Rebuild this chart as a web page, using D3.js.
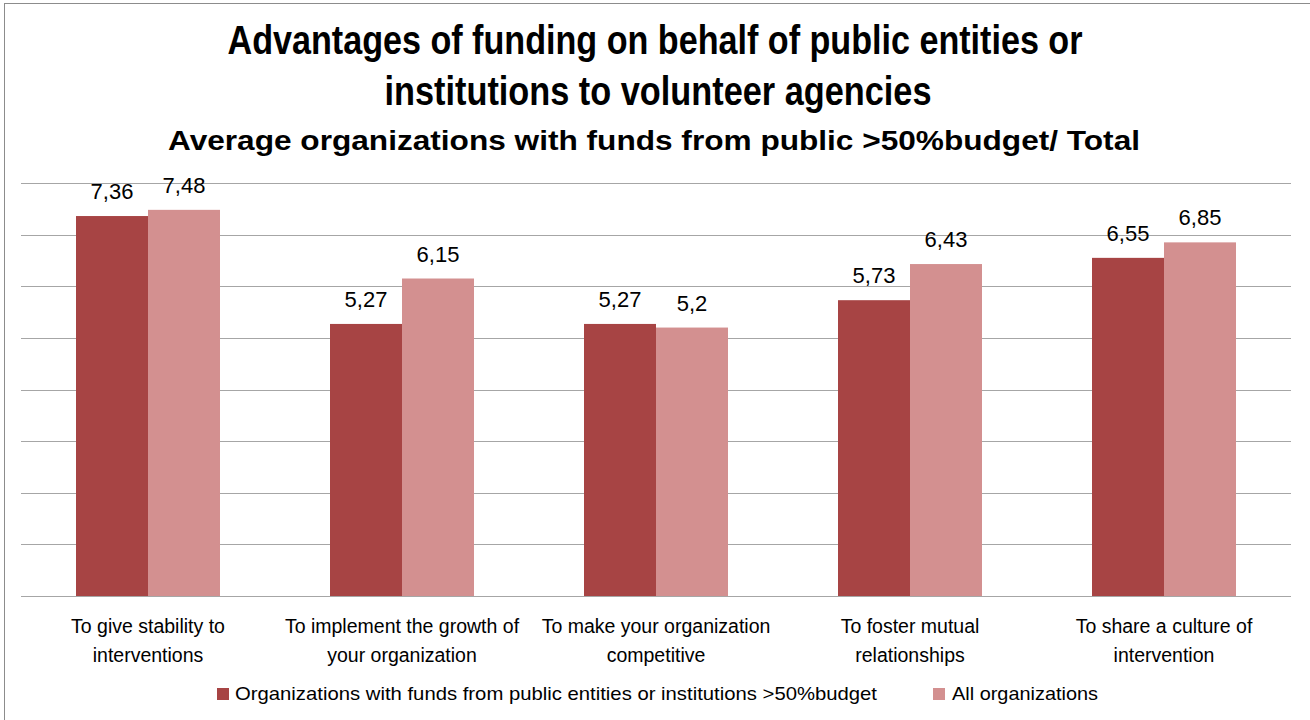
<!DOCTYPE html>
<html><head><meta charset="utf-8">
<script src="https://cdn.jsdelivr.net/npm/d3@7"></script>
<style>body{margin:0;background:#fff}svg{display:block;font-family:"Liberation Sans",Arial,sans-serif}</style>
</head><body><svg id="c" width="1310" height="720"></svg>
<script>
const categories = [
  ["To give stability to","interventions"],
  ["To implement the growth of","your organization"],
  ["To make your organization","competitive"],
  ["To foster mutual","relationships"],
  ["To share a culture of","intervention"]
];
const seriesNames = ["Organizations with funds from public entities or institutions >50%budget","All organizations"];
const seriesPublic = [7.36, 5.27, 5.27, 5.73, 6.55];
const seriesAll = [7.48, 6.15, 5.2, 6.43, 6.85];
const valueLabelsPublic = ["7,36","5,27","5,27","5,73","6,55"];
const valueLabelsAll = ["7,48","6,15","5,2","6,43","6,85"];
const yTicks = [0,1,2,3,4,5,6,7,8];
const colors = ["#A74444","#D39090"];

(function(){
const svg = d3.select("#c");
svg.append("rect").attr("x",4.5).attr("y",3.5).attr("width",1310).attr("height",720).attr("fill","none").attr("stroke","#8c8c8c").attr("stroke-width",1);

const pLeft=21, pRight=1291, pTop=183, pBottom=596;
const x = d3.scaleBand().domain(d3.range(categories.length)).range([pLeft,pRight]).paddingInner(0).paddingOuter(0);
const y = d3.scaleLinear().domain([0,8]).range([pBottom,pTop]);
const inner = d3.scaleBand().domain([0,1]).range([0,x.bandwidth()]).paddingInner(0).paddingOuter(0.764);

svg.append("g").selectAll("line").data(yTicks).join("line")
  .attr("x1",pLeft).attr("x2",pRight).attr("y1",d=>Math.round(y(d))+0.5).attr("y2",d=>Math.round(y(d))+0.5)
  .attr("stroke","#a6a6a6").attr("stroke-width",1.2);

const series = [seriesPublic, seriesAll];
const labels = [valueLabelsPublic, valueLabelsAll];
series.forEach((s,si)=>{
  const g = svg.append("g");
  g.selectAll("rect").data(s).join("rect")
    .attr("x",(d,i)=>x(i)+inner(si)).attr("width",inner.bandwidth())
    .attr("y",d=>y(d)).attr("height",d=>pBottom-y(d)).attr("fill",colors[si]);
  g.selectAll("text").data(s).join("text")
    .attr("x",(d,i)=>x(i)+inner(si)+inner.bandwidth()/2).attr("y",d=>y(d)-17)
    .attr("text-anchor","middle").attr("font-size",22).attr("fill","#000")
    .text((d,i)=>labels[si][i]);
});

const cg = svg.append("g");
categories.forEach((lines,i)=>{
  lines.forEach((t,li)=>{
    cg.append("text").attr("x",x(i)+x.bandwidth()/2).attr("y",633+li*29)
      .attr("text-anchor","middle").attr("font-size",19.5).attr("fill","#000").text(t);
  });
});

function title(t,xc,yb,fs,w){
  svg.append("text").attr("x",xc).attr("y",yb).attr("text-anchor","middle")
    .attr("font-size",fs).attr("font-weight","bold").attr("fill","#000")
    .attr("textLength",w).attr("lengthAdjust","spacingAndGlyphs").text(t);
}
title("Advantages of funding on behalf of public entities or",655,54,40,855);
title("institutions to volunteer agencies",658,105,40,547);
title("Average organizations with funds from public >50%budget/ Total",654,150,28,972);

const lg = svg.append("g");
const legSq = [217,933], legTx=[235,952], legEnd=[877,1098];
seriesNames.forEach((n,i)=>{
  lg.append("rect").attr("x",legSq[i]).attr("y",688).attr("width",12).attr("height",12).attr("fill",colors[i]);
  lg.append("text").attr("x",legTx[i]).attr("y",700).attr("font-size",19).attr("fill","#000")
    .attr("textLength",legEnd[i]-legTx[i]).attr("lengthAdjust","spacingAndGlyphs").text(n);
});
})();
</script></body></html>
